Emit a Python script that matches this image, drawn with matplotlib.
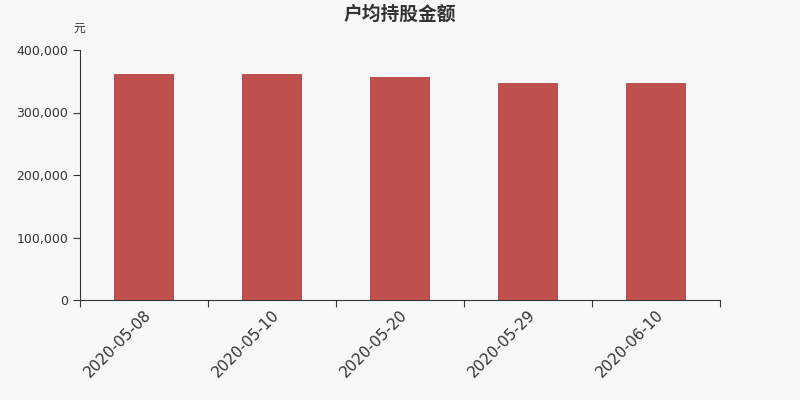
import matplotlib.pyplot as plt
import numpy as np
from matplotlib.ticker import FuncFormatter

plt.rcParams['font.family'] = ['DejaVu Sans', 'Noto Sans CJK SC']

dates = ['2020-05-08', '2020-05-10', '2020-05-20', '2020-05-29', '2020-06-10']
amounts = [361600, 361600, 356800, 347200, 347500]

fig = plt.figure(figsize=(8, 4), dpi=100, facecolor='#f8f8f8')
ax = fig.add_axes([0.1, 0.25, 0.8, 0.625])
ax.set_facecolor('#f8f8f8')

x = np.arange(len(dates))
ax.bar(x, amounts, width=0.47, color='#c0504d', zorder=2)

ax.set_xlim(-0.5, len(dates) - 0.5)
ax.set_ylim(0, 400000)
ax.set_yticks([0, 100000, 200000, 300000, 400000])
ax.yaxis.set_major_formatter(FuncFormatter(lambda v, p: '{:,.0f}'.format(v)))

# boundary ticks without labels, centred labels on minor ticks
ax.set_xticks(np.arange(len(dates) + 1) - 0.5)
ax.set_xticklabels([])
ax.set_xticks(x, minor=True)
ax.set_xticklabels(dates, minor=True, rotation=45, ha='right',
                   rotation_mode='anchor', fontsize=11, color='#333333')
ax.tick_params(axis='x', which='minor', length=0, pad=5)
ax.tick_params(axis='x', which='major', length=5, color='#333333')
ax.tick_params(axis='y', length=5, color='#333333', labelsize=9, labelcolor='#333333')

for s in ['top', 'right']:
    ax.spines[s].set_visible(False)
for s in ['left', 'bottom']:
    ax.spines[s].set_color('#333333')

fig.text(0.5, 0.965, '户均持股金额', ha='center', va='center',
         fontsize=13.5, fontweight='bold', color='#333333',
         family=['Noto Sans CJK SC', 'DejaVu Sans'])
fig.text(0.099, 0.928, '元', ha='center', va='center', fontsize=8.5, color='#333333',
         family=['Noto Sans CJK SC', 'DejaVu Sans'])

fig.savefig('out.png', dpi=100, facecolor=fig.get_facecolor())
